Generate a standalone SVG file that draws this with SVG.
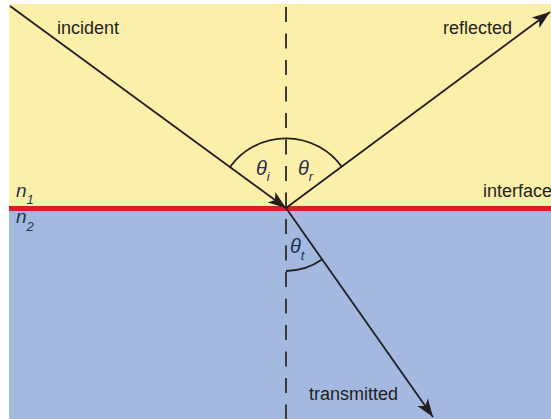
<svg xmlns="http://www.w3.org/2000/svg" width="551" height="419" viewBox="0 0 551 419">
<style>
.lbl{font-family:"Liberation Sans",Arial,sans-serif;font-size:18px;fill:#231f20}
.ital{font-family:"Liberation Sans",Arial,sans-serif;font-style:italic;fill:#23324f}
.ray{stroke:#231f20;stroke-width:1.8;fill:none}
.arc{stroke:#231f20;stroke-width:1.8;fill:none}
</style>
<defs>
<marker id="ah" markerUnits="userSpaceOnUse" markerWidth="22" markerHeight="16" viewBox="-19 -8 21 16" refX="0" refY="0" orient="auto">
<path d="M0,0 L-18,-6.5 L-13.5,0 L-18,6.5 Z" fill="#231f20"/>
</marker>
</defs>
<rect x="0" y="0" width="551" height="419" fill="#ffffff"/>
<g id="medium1"><rect x="9" y="4" width="542" height="204" fill="#fcefa9"/></g>
<g id="medium2"><rect x="9" y="208" width="542" height="211" fill="#a4b9e0"/></g>
<g id="interface"><rect x="9" y="206" width="542" height="5" fill="#d52028"/></g>
<g id="normal"><line x1="286" y1="7" x2="286" y2="419" stroke="#3a3a3a" stroke-width="2" stroke-dasharray="15 11.5"/></g>
<g id="connectors">
<line class="ray" x1="10" y1="6" x2="286" y2="208" marker-end="url(#ah)"/>
<line class="ray" x1="286" y1="208" x2="550" y2="12" marker-end="url(#ah)"/>
<line class="ray" x1="286" y1="208" x2="433" y2="417" marker-end="url(#ah)"/>
<path class="arc" d="M230,167 A69,69 0 0 1 342,167"/>
<path class="arc" d="M286,271 A63,63 0 0 0 322,259.6"/>
</g>
<g id="labels">
<text class="lbl" x="57" y="34">incident</text>
<text class="lbl" x="443" y="34">reflected</text>
<text class="lbl" x="483" y="197">interface</text>
<text class="lbl" x="309" y="400">transmitted</text>
<text class="ital" x="16" y="197" font-size="19">n<tspan font-size="13" dy="7">1</tspan></text>
<text class="ital" x="16" y="223" font-size="19">n<tspan font-size="13" dy="8">2</tspan></text>
<text class="ital" x="256" y="175" font-size="20">θ<tspan font-size="13" dy="6">i</tspan></text>
<text class="ital" x="298" y="175" font-size="20">θ<tspan font-size="13" dy="6">r</tspan></text>
<text class="ital" x="290" y="253" font-size="20">θ<tspan font-size="13" dy="7">t</tspan></text>
</g>
</svg>
